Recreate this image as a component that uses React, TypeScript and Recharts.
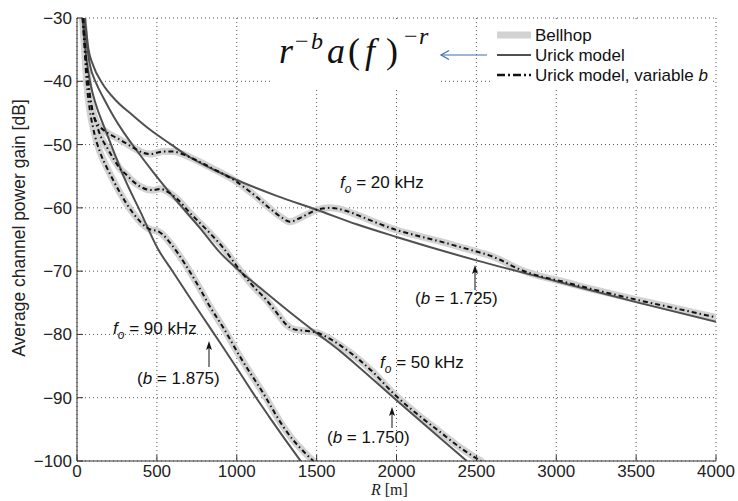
import React from 'react';
import { LineChart, Line, XAxis, YAxis, CartesianGrid, Customized } from 'recharts';

// Range R [m] and gain [dB] pairs
const xTicks = [0, 500, 1000, 1500, 2000, 2500, 3000, 3500, 4000];
const yTicks = [-100, -90, -80, -70, -60, -50, -40, -30];

const legendLabels = ['Bellhop', 'Urick model', 'Urick model, variable '];

// Bellhop (and Urick model with variable b, which follows it)
const bellhop20: [number, number][] = [
  [38, -30], [55, -36], [75, -41.5], [100, -45], [125, -46.6], [144, -47.2], [207, -48.4], [260, -49.1],
  [313, -49.9], [360, -50.6], [413, -51.3], [457, -51.5], [500, -51.3], [538, -51.1], [600, -51.1],
  [650, -51.4], [707, -52], [850, -53.8], [1000, -55.9], [1060, -57], [1125, -58.3], [1208, -60.1],
  [1280, -61.5], [1333, -62.2], [1396, -61.6], [1450, -60.9], [1500, -60.3], [1584, -60.0], [1688, -60.5],
  [1771, -61.3], [1880, -62.4], [2000, -63.5], [2130, -64.4], [2272, -65.3], [2400, -66.2], [2500, -66.9],
  [2580, -67.5], [2648, -68.2], [2760, -69.6], [2898, -70.8], [3000, -71.4], [3250, -73], [3500, -74.5],
  [3750, -75.9], [4000, -77.3],
];
const bellhop50: [number, number][] = [
  [38, -30], [55, -36], [75, -41], [100, -45], [123, -46.9], [150, -48.8], [186, -50.4], [230, -52.3],
  [269, -53.8], [311, -54.8], [350, -55.8], [394, -56.6], [440, -57.1], [478, -57.2], [520, -57.0],
  [570, -57.5], [624, -58.5], [707, -60.8], [770, -62.4], [832, -64], [915, -66.3], [1000, -69.2],
  [1100, -72.3], [1187, -74.6], [1260, -76.9], [1312, -78.5], [1360, -79.2], [1417, -79.4], [1500, -79.7],
  [1584, -80.7], [1646, -81.7], [1771, -84.1], [1855, -86], [1980, -89.3], [2130, -92.6], [2272, -95.4],
  [2400, -97.9], [2502, -99.6], [2530, -100],
];
const bellhop90: [number, number][] = [
  [35, -30], [50, -36], [60, -40], [80, -44.5], [102, -47.5], [144, -51.2], [186, -53.6], [230, -55.8],
  [269, -57.6], [350, -60.8], [400, -62.3], [436, -63.1], [470, -63.5], [499, -63.6], [540, -64.3],
  [582, -65.5], [687, -69.3], [770, -72.8], [832, -75.6], [915, -78.9], [1020, -83.5], [1166, -89.3],
  [1292, -94.6], [1350, -96.6], [1396, -97.9], [1430, -98.8], [1480, -100],
];

// Urick model (fixed b)
const urick20: [number, number][] = [
  [50, -30], [71, -34.8], [100, -37.4], [155, -40.2], [250, -43.2], [350, -45.4], [450, -47.5], [590, -50],
  [707, -52], [850, -53.9], [1000, -55.6], [1250, -58.1], [1500, -60.3], [1750, -62.6], [2000, -64.6],
  [2500, -68.3], [3000, -71.6], [3500, -74.9], [4000, -78],
];
const urick50: [number, number][] = [
  [40, -30], [60, -34], [81, -37.4], [120, -40.3], [165, -42.6], [230, -45.6], [290, -48], [373, -50.9],
  [478, -54.4], [600, -58.2], [770, -63.2], [900, -67.2], [1000, -69.6], [1125, -72.2], [1333, -76.5],
  [1500, -79.8], [1646, -82.6], [1771, -85.3], [2000, -90.4], [2200, -94.8], [2440, -100],
];
const urick90: [number, number][] = [
  [35, -30], [50, -34.5], [81, -40], [120, -43.8], [165, -46.9], [227, -50.9], [288, -54.8], [400, -60.8],
  [507, -66.5], [600, -70.1], [707, -74.2], [850, -79.6], [1000, -85.3], [1100, -89.2], [1200, -92.9],
  [1300, -96.5], [1400, -100],
];

const toPts = (arr: [number, number][]) => arr.map(([x, y]) => ({ x, y }));
const fmt = (v: number) => String(v).replace('-', '\u2212');

const SANS = 'Liberation Sans, Arial, Helvetica, sans-serif';
const SERIF = 'Liberation Serif, Times New Roman, serif';

const BELLHOP_STYLE = { stroke: '#d2d2d2', strokeWidth: 7 };
const URICK_STYLE = { stroke: '#505050', strokeWidth: 2 };
const VARB_STYLE = { stroke: '#111', strokeWidth: 2, strokeDasharray: '5 3 1.5 3' };

const WhiteBoxes = () => (
  <g>
    <rect x={273} y={19} width={165} height={69} fill="#fff" />
    <rect x={490} y={19} width={221} height={69} fill="#fff" />
  </g>
);

const UpArrow = ({ x, y1, y2 }: { x: number; y1: number; y2: number }) => (
  <g>
    <line x1={x} y1={y1} x2={x} y2={y2 + 6} stroke="#111" strokeWidth={1} />
    <path d={`M${x} ${y2} L${x - 3} ${y2 + 9} L${x} ${y2 + 7} L${x + 3} ${y2 + 9} Z`} fill="#111" />
  </g>
);

const FoLabel = ({ x, y, text }: { x: number; y: number; text: string }) => (
  <text x={x} y={y} fontFamily={SANS} fontSize={17} fill="#111">
    <tspan fontStyle="italic">f</tspan>
    <tspan fontStyle="italic" fontSize={12} dy={5}>o</tspan>
    <tspan dy={-5}>{' = ' + text}</tspan>
  </text>
);

const BLabel = ({ x, y, text }: { x: number; y: number; text: string }) => (
  <text x={x} y={y} fontFamily={SANS} fontSize={17} fill="#111">
    <tspan>(</tspan>
    <tspan fontStyle="italic">b</tspan>
    <tspan>{' = ' + text + ')'}</tspan>
  </text>
);

const Annotations = () => (
  <g>
    {/* formula */}
    <g fontFamily={SERIF} fill="#111">
      <text x={279} y={63} fontSize={36} fontStyle="italic">r</text>
      <text x={295} y={49} fontSize={24}>{'\u2212'}</text>
      <text x={311} y={49} fontSize={24} fontStyle="italic">b</text>
      <text x={327} y={63} fontSize={36} fontStyle="italic">a</text>
      <text x={348} y={63} fontSize={36}>(</text>
      <text x={365} y={63} fontSize={36} fontStyle="italic">f</text>
      <text x={386} y={63} fontSize={36}>)</text>
      <text x={404} y={44} fontSize={24}>{'\u2212'}</text>
      <text x={419} y={44} fontSize={24} fontStyle="italic">r</text>
    </g>
    {/* blue arrow */}
    <g stroke="#3f6fa8" strokeWidth={1.2} fill="none">
      <line x1={441} y1={55} x2={487} y2={55} />
      <polyline points="449,50.5 441,55 449,59.5" />
    </g>
    {/* legend */}
    <line x1={497} y1={35} x2={531} y2={35} {...BELLHOP_STYLE} />
    <line x1={497} y1={55} x2={531} y2={55} {...URICK_STYLE} />
    <line x1={497} y1={75} x2={531} y2={75} stroke="#111" strokeWidth={2.5} strokeDasharray="8 3 2 3" />
    <text x={535} y={41} fontFamily={SANS} fontSize={17} fill="#111">{legendLabels[0]}</text>
    <text x={535} y={61} fontFamily={SANS} fontSize={17} fill="#111">{legendLabels[1]}</text>
    <text x={535} y={81} fontFamily={SANS} fontSize={17} fill="#111">
      {legendLabels[2]}
      <tspan fontStyle="italic">b</tspan>
    </text>
    {/* curve labels */}
    <FoLabel x={340} y={188} text="20 kHz" />
    <BLabel x={415} y={304} text="1.725" />
    <UpArrow x={475} y1={290} y2={265} />
    <FoLabel x={113} y={334} text="90 kHz" />
    <BLabel x={137} y={384} text="1.875" />
    <UpArrow x={209} y1={367} y2={341} />
    <FoLabel x={380} y={368} text="50 kHz" />
    <BLabel x={327} y={443} text="1.750" />
    <UpArrow x={392} y1={428} y2={407} />
    {/* axis titles */}
    <text x={19} y={228} transform="rotate(-90 19 228)" textAnchor="middle" dominantBaseline="central"
      fontFamily={SANS} fontSize={17.5} fill="#222">Average channel power gain [dB]</text>
    <text x={371} y={495} fontFamily={SERIF} fontSize={16} fill="#222">
      <tspan fontStyle="italic">R</tspan>
      <tspan>{' [m]'}</tspan>
    </text>
  </g>
);

const tickStyle = { fill: '#222', fontSize: 17, fontFamily: SANS };

export default function App() {
  return (
    <div style={{ position: 'absolute', left: 0, top: 0, width: 738, height: 501, background: '#fff' }}>
      <LineChart width={738} height={501} margin={{ top: 18, right: 22, bottom: 10, left: 17 }}>
        <CartesianGrid stroke="#555" strokeDasharray="1 3" />
        <Customized component={WhiteBoxes} />
        <XAxis type="number" dataKey="x" domain={[0, 4000]} ticks={xTicks} interval={0} allowDataOverflow
          height={30} tickSize={-6} tickMargin={10} tick={tickStyle} tickFormatter={fmt} stroke="#333" />
        <XAxis xAxisId="top" orientation="top" type="number" dataKey="x" domain={[0, 4000]} ticks={xTicks}
          interval={0} allowDataOverflow height={0} tickSize={-6} tick={false} stroke="#333" />
        <YAxis type="number" domain={[-100, -30]} ticks={yTicks} interval={0} allowDataOverflow width={60}
          tickSize={-6} tickMargin={11} tick={tickStyle} tickFormatter={fmt} stroke="#333" />
        <YAxis yAxisId="right" orientation="right" type="number" domain={[-100, -30]} ticks={yTicks}
          interval={0} allowDataOverflow width={0} tickSize={-6} tick={false} stroke="#333" />
        {[bellhop20, bellhop50, bellhop90].map((d, i) => (
          <Line key={'b' + i} data={toPts(d)} dataKey="y" type="monotone" dot={false} isAnimationActive={false}
            strokeLinecap="round" strokeLinejoin="round" {...BELLHOP_STYLE} />
        ))}
        {[urick20, urick50, urick90].map((d, i) => (
          <Line key={'u' + i} data={toPts(d)} dataKey="y" type="monotone" dot={false} isAnimationActive={false}
            {...URICK_STYLE} />
        ))}
        {[bellhop20, bellhop50, bellhop90].map((d, i) => (
          <Line key={'v' + i} data={toPts(d)} dataKey="y" type="monotone" dot={false} isAnimationActive={false}
            {...VARB_STYLE} />
        ))}
        <Customized component={Annotations} />
      </LineChart>
    </div>
  );
}
